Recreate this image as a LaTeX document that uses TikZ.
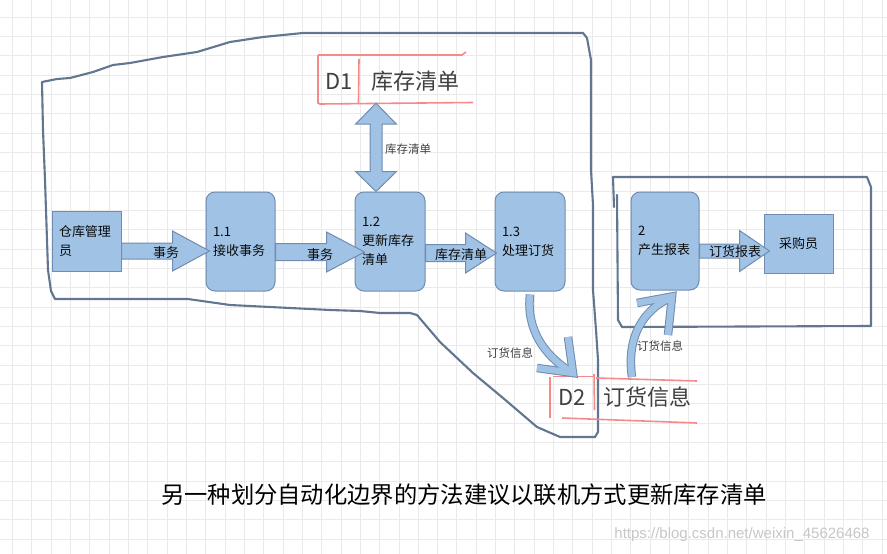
\documentclass[tikz,border=0pt]{standalone}
\usepackage{fontspec}
\setmainfont{Noto Sans CJK SC}
\newfontfamily\wmfont{Liberation Sans}
\usetikzlibrary{calc}
\definecolor{boxfill}{RGB}{159,194,229}
\definecolor{boxline}{RGB}{112,140,176}
\definecolor{bound}{RGB}{98,118,143}
\definecolor{redl}{RGB}{244,138,138}
\definecolor{gridc}{RGB}{234,234,234}
\definecolor{txt}{RGB}{10,10,10}
\tikzset{
  proc/.style={draw=boxline, fill=boxfill, line width=1pt, rounded corners=9pt,
    inner xsep=7pt, inner ysep=0pt, align=left, text=txt,
    font=\fontsize{13}{19}\selectfont},
  ext/.style={draw=boxline, fill=boxfill, line width=1pt,
    inner xsep=7pt, inner ysep=0pt, text=txt,
    font=\fontsize{13}{19}\selectfont},
  barr/.style={draw=boxline, fill=boxfill, line width=1pt, line join=miter},
  alab/.style={inner sep=0pt, text=txt, font=\fontsize{13}{15}\selectfont},
  slab/.style={inner sep=0pt, text=black!75, font=\fontsize{11.5}{13}\selectfont},
  bline/.style={draw=bound, line width=2.1pt, line join=round, line cap=round},
  rline/.style={draw=redl, line width=1.6pt},
  storetxt/.style={inner sep=0pt, text=black!75, font=\fontsize{22}{24}\selectfont},
  cout/.style={draw=boxline, line width=8.5pt, line join=miter},
  cin/.style={draw=boxfill, line width=6.5pt, line join=miter},
}
\newcommand\blockarrow[7]{%
  \draw[barr] let \p1=(#1.east), \p2=(#2.west), \p3=(0,#3) in
   (\x1,\y3+#6pt) -- (\x2+#4pt-#5pt,\y3+#6pt) -- (\x2+#4pt-#5pt,\y3+#7pt)
   -- (\x2+#4pt,\y3) -- (\x2+#4pt-#5pt,\y3-#7pt) -- (\x2+#4pt-#5pt,\y3-#6pt)
   -- (\x1,\y3-#6pt) -- cycle;}
\begin{document}
\begin{tikzpicture}[x=1pt,y=-1pt]
\useasboundingbox (0,0) rectangle (887,554);
\fill[white] (0,0) rectangle (887,554);
% grid
\foreach \i in {0,...,45} {\draw[gridc, line width=1pt] ({12.4+19.33*\i},0) -- ({12.4+19.33*\i},554);}
\foreach \j in {1,...,28} {\draw[gridc, line width=1pt] (0,{-2+19.33*\j}) -- (887,{-2+19.33*\j});}

% boundaries
\draw[bline] (55,299) -- (51,291) -- (48,270) -- (45,180) -- (43,130) -- (42,82)
  -- (57,79) -- (70,78) -- (93,72) -- (113,65) -- (130,63) -- (163,57) -- (197,52)
  -- (230,42) -- (263,37) -- (303,33) -- (583,33) -- (587,38) -- (591,60)
  -- (591,170) -- (593,205) -- (593,290) -- (596,330) -- (598,360) -- (598,432)
  -- (595,437) -- (560,437) -- (537,427) -- (503,398) -- (473,373) -- (440,342)
  -- (417,315) -- (410,313) -- (380,313) -- (360,311) -- (330,310) -- (230,305)
  -- (188,299) -- cycle;
\draw[bline] (617,195) -- (618,320) -- (622,327) -- (871,326) -- (871,187)
  -- (867,177) -- (613,177) -- (614,207);

% processes and entities
\node[ext, minimum width=69pt, minimum height=60pt, text width=55pt, align=left]
  (clerk) at (86.5,241) {仓库管理\\员};
\node[proc, minimum width=69pt, minimum height=99pt, text width=55pt] (p11) at (240.5,241.5) {1.1\\接收事务};
\node[proc, minimum width=70pt, minimum height=99pt, text width=56pt] (p12) at (390,241.5) {1.2\\更新库存\\清单};
\node[proc, minimum width=70pt, minimum height=99pt, text width=56pt] (p13) at (530,241.5) {1.3\\处理订货};
\node[proc, minimum width=68pt, minimum height=98pt, text width=54pt] (p2) at (665,241) {2\\产生报表};
\node[ext, minimum width=69pt, minimum height=59pt] (buyer) at (798.5,243.5) {采购员};

% data stores
\node[inner sep=0pt, minimum width=152pt, minimum height=48pt] (d1) at (394,79) {};
\node[storetxt] (d1id) at (339,81) {D1};
\node[storetxt] (d1nm) at (415,81) {库存清单};
\draw[rline] (318,55) -- (462,55) -- (466,52);
\draw[rline] (318,55) -- (318,103) -- (320,104) -- (473,102.5);
\draw[rline] (359,59) -- (358.5,103);

\node[inner sep=0pt, minimum width=147pt, minimum height=46pt] (d2) at (623,399) {};
\node[storetxt] (d2id) at (572,397) {D2};
\node[storetxt] (d2nm) at (647,397) {订货信息};
\draw[rline] (550,377) -- (550,418);
\draw[rline] (553,376.5) -- (593,376.5);
\draw[rline] (596,378) -- (697,381);
\draw[rline] (594,374) -- (594.5,410);
\draw[rline] (562,418) -- (697,423);

% straight block arrows
\blockarrow{clerk}{p11}{251}{4}{37}{8}{20}
\blockarrow{p11}{p12}{252}{10}{38}{8.5}{20}
\blockarrow{p12}{p13}{253}{2}{31}{8.5}{20}
\blockarrow{p2}{buyer}{251}{6}{30}{7}{20.5}
\node[alab] (l1) at (166,253) {事务};
\node[alab] (l2) at (320,255) {事务};
\node[alab] (l3) at (461,255) {库存清单};
\node[alab] (l4) at (735,252) {订货报表};

% double arrow D1 <-> 1.2
\draw[barr] let \p1=(d1.south), \p2=(p12.north) in
  (376pt,\y1) -- (396.5pt,\y1-21pt) -- (382pt,\y1-21pt) -- (382pt,\y2+20pt)
  -- (396.5pt,\y2+20pt) -- (376pt,\y2) -- (355.5pt,\y2+20pt) -- (370pt,\y2+20pt)
  -- (370pt,\y1-21pt) -- (355.5pt,\y1-21pt) -- cycle;
\node[slab] (l5) at (408,149) {库存清单};

% curved arrows
\coordinate (c1s) at ($(p13.south)+(0,3)$);
\coordinate (c1t) at (573,373);
\coordinate (c2s) at (632,377);
\coordinate (c2t) at ($(p2.south)+(7,6)$);
\draw[cout] (c1s) .. controls (526,330) and (545,355) .. (568,370);
\draw[cout] (537,368) -- (c1t) -- (568,337);
\draw[cout] (c2s) .. controls (626,335) and (645,310) .. (668,299);
\draw[cout] (637,303) -- (c2t) -- (668,335);
\draw[cin] (c1s) .. controls (526,330) and (545,355) .. (568,370);
\draw[cin] (537,368) -- (c1t) -- (568,337);
\draw[cin] (c2s) .. controls (626,335) and (645,310) .. (668,299);
\draw[cin] (637,303) -- (c2t) -- (668,335);
\node[slab] (l6) at (510,353) {订货信息};
\node[slab] (l7) at (660,346) {订货信息};

% caption and watermark
\node[inner sep=0pt, text=black, font=\fontsize{23.3}{26}\selectfont] (title) at (464,495)
  {另一种划分自动化边界的方法建议以联机方式更新库存清单};
\node[inner sep=0pt, text=black!22, font=\wmfont\fontsize{15}{17}\selectfont] (wm) at (742,535)
  {https://blog.csdn.net/weixin\_45626468};
\end{tikzpicture}
\end{document}
